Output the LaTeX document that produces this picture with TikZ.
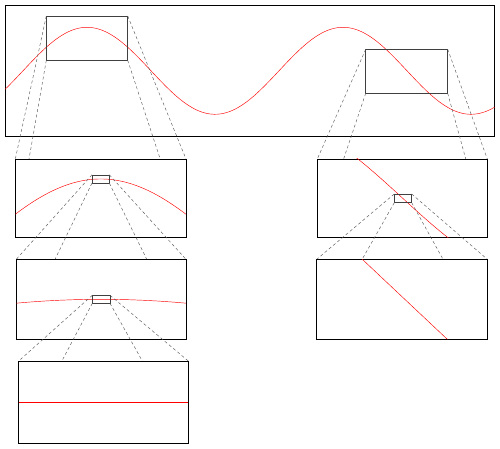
\documentclass[tikz,border=0pt]{standalone}
\pgfdeclarelayer{linkA}
\pgfdeclarelayer{boxA}
\pgfdeclarelayer{linkB}
\pgfdeclarelayer{boxB}
\pgfdeclarelayer{linkC}
\pgfdeclarelayer{boxC}
\pgfsetlayers{main,linkA,boxA,linkB,boxB,linkC,boxC}
\tikzset{
  zframe/.style={draw=black,line width=0.6pt,inner sep=0pt,outer sep=0pt},
  zbox/.style={zframe,fill=white},
  lens/.style={draw=black!75,line width=0.5pt,inner sep=0pt,outer sep=0pt},
  link/.style={draw=black!65,line width=0.45pt,dash pattern=on 3pt off 2.5pt},
  curve/.style={draw=red,line width=0.45pt}
}
\begin{document}
\begin{tikzpicture}[x=1pt,y=-1pt]
\useasboundingbox (0,0) rectangle (500,449);
% main plot
\node[zframe,minimum width=489.5pt,minimum height=131.3pt] (M) at (249.75,70.65) {};
\draw[curve] plot[domain=5:494.5,samples=200] (\x,{70.8-43.5*cos((\x-87)*1.40625)});
\node[lens,minimum width=81.4pt,minimum height=44.3pt] (R1) at (87,38.15) {};
\node[lens,minimum width=82pt,minimum height=44pt] (R2) at (406.7,71.3) {};
% first magnification
\begin{pgfonlayer}{boxA}
\node[zbox,minimum width=170.7pt,minimum height=78.3pt] (B1) at (100.65,198.15) {};
\begin{scope}
\clip (B1.south west) rectangle (B1.north east);
\draw[curve] plot[domain=15.3:186,samples=120] (\x,{178.97+76.886*(1-cos((\x-100.65)*0.67057))});
\end{scope}
\node[lens,minimum width=17.4pt,minimum height=8.3pt] (r1) at (100.65,178.97) {};
\node[zbox,minimum width=170pt,minimum height=78.3pt] (C1) at (402.3,198.15) {};
\begin{scope}
\clip (C1.south west) rectangle (C1.north east);
\draw[curve] plot[domain=317.3:487.3,samples=120] (\x,{197.26-77.41*cos(32.8+(\x-317.3)*0.67836)});
\end{scope}
\node[lens,minimum width=17.4pt,minimum height=8.7pt] (s1) at (403,198.35) {};
\end{pgfonlayer}
\begin{pgfonlayer}{linkA}
\draw[link] (R1.north west) -- (B1.north west);
\draw[link] (R1.south west) -- (B1.south west);
\draw[link] (R1.north east) -- (B1.north east);
\draw[link] (R1.south east) -- (B1.south east);
\draw[link] (R2.north west) -- (C1.north west);
\draw[link] (R2.south west) -- (C1.south west);
\draw[link] (R2.north east) -- (C1.north east);
\draw[link] (R2.south east) -- (C1.south east);
\end{pgfonlayer}
% second magnification
\begin{pgfonlayer}{boxB}
\node[zbox,minimum width=169.7pt,minimum height=80pt] (B2) at (101.15,299.3) {};
\begin{scope}
\clip (B2.south west) rectangle (B2.north east);
\draw[curve] plot[domain=16.3:186,samples=80] (\x,{299.3+741.1*(1-cos((\x-101.15)*0.068755))});
\end{scope}
\node[lens,minimum width=17.7pt,minimum height=8pt] (r2) at (101.15,299.3) {};
\node[zbox,minimum width=170.6pt,minimum height=80pt] (C2) at (402,299.3) {};
\begin{scope}
\clip (C2.south west) rectangle (C2.north east);
\draw[curve] (362.3,259.3) -- (447.3,339.3);
\end{scope}
\end{pgfonlayer}
\begin{pgfonlayer}{linkB}
\draw[link] (r1.north west) -- (B2.north west);
\draw[link] (r1.south west) -- (B2.south west);
\draw[link] (r1.north east) -- (B2.north east);
\draw[link] (r1.south east) -- (B2.south east);
\draw[link] (s1.north west) -- (C2.north west);
\draw[link] (s1.south west) -- (C2.south west);
\draw[link] (s1.north east) -- (C2.north east);
\draw[link] (s1.south east) -- (C2.south east);
\end{pgfonlayer}
% third magnification
\begin{pgfonlayer}{boxC}
\node[zbox,minimum width=169.6pt,minimum height=82pt] (B3) at (103.5,402) {};
\draw[curve] (18.7,402.3) -- (188.3,402.3);
\end{pgfonlayer}
\begin{pgfonlayer}{linkC}
\draw[link] (r2.north west) -- (B3.north west);
\draw[link] (r2.south west) -- (B3.south west);
\draw[link] (r2.north east) -- (B3.north east);
\draw[link] (r2.south east) -- (B3.south east);
\end{pgfonlayer}
\end{tikzpicture}
\end{document}
